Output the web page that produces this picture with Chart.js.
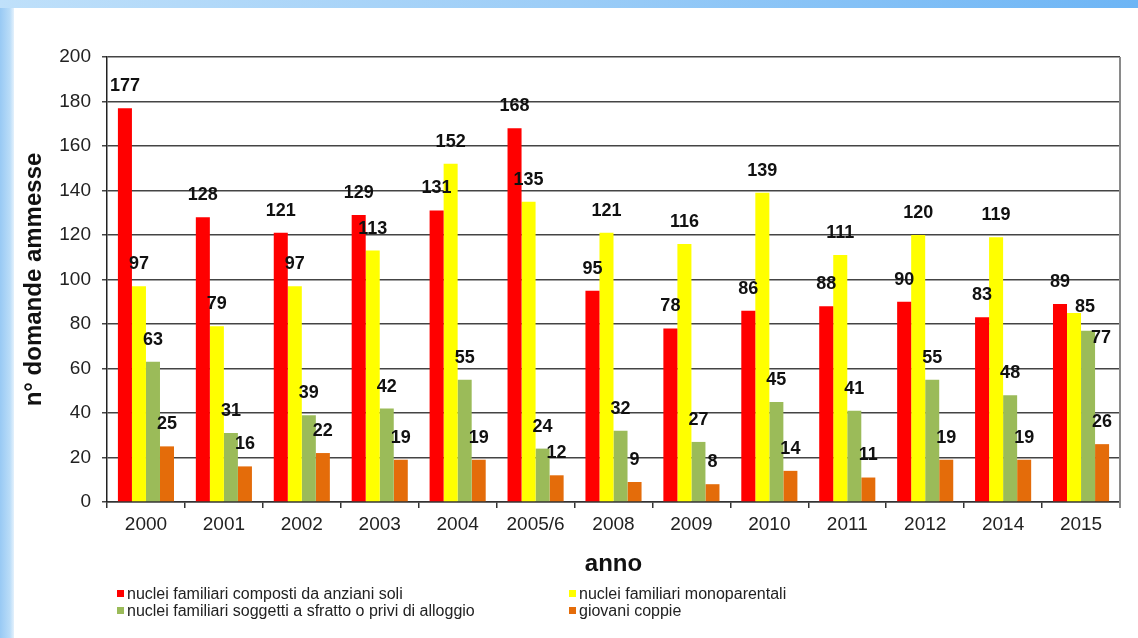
<!DOCTYPE html>
<html>
<head>
<meta charset="utf-8">
<script src="https://cdn.jsdelivr.net/npm/chart.js@4"></script>
<style>
	html, body { margin:0; padding:0; background:#fff; }
	#frame { position:relative; width:1138px; height:638px; overflow:hidden; background:#fff; }
	#topbar { position:absolute; left:0; top:0; width:1138px; height:8px;
		background:linear-gradient(to right, #bfe0fa, #9ccdf7 50%, #6db5f5); }
	#leftbar { position:absolute; left:0; top:8px; width:14px; height:630px;
		background:linear-gradient(to right, #98c9f4, #b9dcf8 70%, #e4f1fc); }
	#wrap { position:absolute; left:0; top:0; width:1138px; height:638px; }
	#legend { position:absolute; left:0; top:585px; font-family:'Liberation Sans', Arial, sans-serif;
		font-size:16px; color:#222; }
	.item { position:absolute; white-space:nowrap; line-height:17px; }
	.item i { display:inline-block; width:7px; height:7px; margin-right:3px; vertical-align:2px; }
</style>
</head>
<body>
<div id="frame">
	<div id="topbar"></div>
	<div id="leftbar"></div>
	<div id="wrap"><canvas id="chart" width="1138" height="638"></canvas></div>
	<div id="legend"></div>
</div>
<script>
const anni = ['2000','2001','2002','2003','2004','2005/6','2008','2009','2010','2011','2012','2014','2015'];
const anzianiSoli = [177,128,121,129,131,168,95,78,86,88,90,83,89];
const monoparentali = [97,79,97,113,152,135,121,116,139,111,120,119,85];
const sfratto = [63,31,39,42,55,24,32,27,45,41,55,48,77];
const giovaniCoppie = [25,16,22,19,19,12,9,8,14,11,19,19,26];
const yTicks = [0,20,40,60,80,100,120,140,160,180,200];

const FONT = "'Liberation Sans', Arial, sans-serif";

const series = [
	{ label:'nuclei familiari composti da anziani soli', data:anzianiSoli, color:'#ff0000' },
	{ label:'nuclei familiari monoparentali', data:monoparentali, color:'#ffff00' },
	{ label:'nuclei familiari soggetti a sfratto o privi di alloggio', data:sfratto, color:'#9bbb59' },
	{ label:'giovani coppie', data:giovaniCoppie, color:'#e46c0a' }
];

// a couple of labels in 2015 are pushed aside in the original
const labelNudge = { '1_12':[11,16], '2_12':[13,29] };

// numbers over the bars
const barLabels = {
	id:'barLabels',
	afterDatasetsDraw(chart) {
		const ctx = chart.ctx;
		ctx.save();
		ctx.font = 'bold 18px ' + FONT;
		ctx.fillStyle = '#111';
		ctx.textAlign = 'center';
		ctx.textBaseline = 'middle';
		chart.data.datasets.forEach((ds, i) => {
			chart.getDatasetMeta(i).data.forEach((bar, j) => {
				const n = labelNudge[i + '_' + j] || [0, 0];
				ctx.fillText(String(ds.data[j]), bar.x + n[0], bar.y - 22 + n[1]);
			});
		});
		ctx.restore();
	}
};

const rightBorder = {
	id:'rightBorder',
	afterDraw(chart) {
		const a = chart.chartArea, ctx = chart.ctx;
		ctx.save();
		ctx.strokeStyle = '#8a8a8a';
		ctx.lineWidth = 2;
		ctx.beginPath();
		ctx.moveTo(a.right, a.top);
		ctx.lineTo(a.right, a.bottom + 6);
		ctx.stroke();
		ctx.restore();
	}
};

new Chart(document.getElementById('chart'), {
	type:'bar',
	data: {
		labels: anni,
		datasets: series.map(s => ({
			label: s.label,
			data: s.data,
			backgroundColor: s.color,
			borderWidth: 0,
			barPercentage: 1,
			categoryPercentage: 0.72
		}))
	},
	options: {
		responsive:false,
		animation:false,
		layout: { padding: { left:0, right:18, top:57, bottom:56 } },
		plugins: { legend:{ display:false }, tooltip:{ enabled:false } },
		scales: {
			x: {
				grid: { offset:true, drawOnChartArea:false, color:'#333', lineWidth:1.5, tickLength:6 },
				border: { color:'#333', width:1.5 },
				ticks: { color:'#222', font:{ family:FONT, size:19 }, padding:5, maxRotation:0, autoSkip:false },
				title: { display:true, text:'anno', color:'#111', font:{ family:FONT, size:24, weight:'bold' }, padding:{ top:0, bottom:3 } },
				afterFit(scale) { scale.height = 80; }
			},
			y: {
				min:0, max:200,
				afterBuildTicks(scale) { scale.ticks = yTicks.map(v => ({ value:v })); },
				grid: { color:'#444', lineWidth:1.5, tickLength:5 },
				border: { color:'#222', width:1.5 },
				ticks: { color:'#222', font:{ family:FONT, size:19 }, padding:11 },
				title: { display:true, text:'n° domande ammesse', color:'#111', font:{ family:FONT, size:24, weight:'bold' }, padding:{ top:20, bottom:0 } },
				afterFit(scale) { scale.width = 107; }
			}
		}
	},
	plugins: [barLabels, rightBorder]
});

// legend in two columns
const legend = document.getElementById('legend');
const spots = [[117,0],[569,0],[117,17],[569,17]];
series.forEach((s, i) => {
	const d = document.createElement('div');
	d.className = 'item';
	d.style.left = spots[i][0] + 'px';
	d.style.top = spots[i][1] + 'px';
	d.innerHTML = '<i style="background:' + s.color + '"></i>' + s.label;
	legend.appendChild(d);
});
</script>
</body>
</html>
